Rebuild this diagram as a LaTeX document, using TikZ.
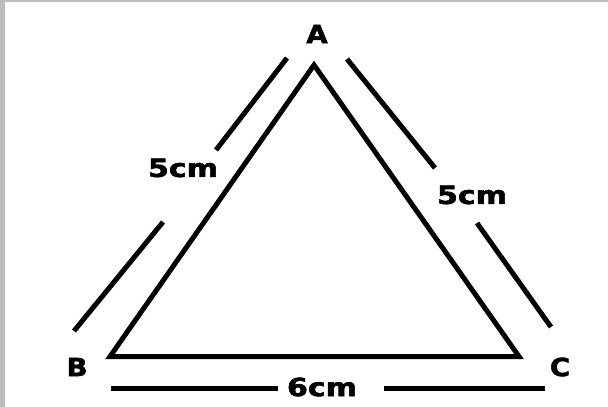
\documentclass[tikz,border=0pt]{standalone}
\usepackage{fontspec}
\setmainfont{DejaVu Sans}
\newfontfamily\labelfont{DejaVu Sans Bold}[FakeBold=2]
\usetikzlibrary{calc}
\definecolor{Ink}{HTML}{000000}
\definecolor{Frame}{HTML}{BEBEBE}
\tikzset{
  side/.style={draw=Ink, line width=5pt, line join=miter},
  dimline/.style={draw=Ink, line width=5pt},
  vlabel/.style={font=\labelfont\fontsize{25}{25}\selectfont, text=Ink,
    inner sep=0pt, xscale=1.1},
  lenlabel/.style={font=\labelfont\fontsize{25}{25}\selectfont, text=Ink,
    inner sep=0pt, xscale=1.2}
}
\begin{document}
\begin{tikzpicture}[x=1pt,y=-1pt]
        \useasboundingbox (0,0) rectangle (608,407);
        \fill[white] (0,0) rectangle (608,407);
        \fill[Frame] (0,0) rectangle (608,2);
        \fill[Frame] (0,0) rectangle (4.5,407);
        % triangle corners
        \coordinate (vA) at (314,65);
        \coordinate (vB) at (110,356.5);
        \coordinate (vC) at (519,356.5);
        \draw[side] (vA) -- (vB) -- (vC) -- cycle;
        \node[vlabel] (A) at (317,34) {A};
        \node[vlabel] (B) at (77,367) {B};
        \node[vlabel] (C) at (560,367) {C};
        % length labels
        \node[lenlabel] (ab) at (183,168) {5cm};
        \node[lenlabel] (ac) at (472,195) {5cm};
        \node[lenlabel] (bc) at (322,387) {6cm};
        % dimension lines
        \coordinate (ab1) at (287,58);
        \coordinate (ab2) at (74,331);
        \coordinate (ac1) at (347,59);
        \coordinate (ac2) at (551,327);
        \coordinate (bc1) at (111,388);
        \coordinate (bc2) at (545,388);
        \draw[dimline] (ab1) -- (216,150);
        \draw[dimline] (163,222) -- (ab2);
        \draw[dimline] (ac1) -- (435,168);
        \draw[dimline] (477,223) -- (ac2);
        \draw[dimline] (bc1) -- (278,388);
        \draw[dimline] (384,388) -- (bc2);
      \end{tikzpicture}
\end{document}
